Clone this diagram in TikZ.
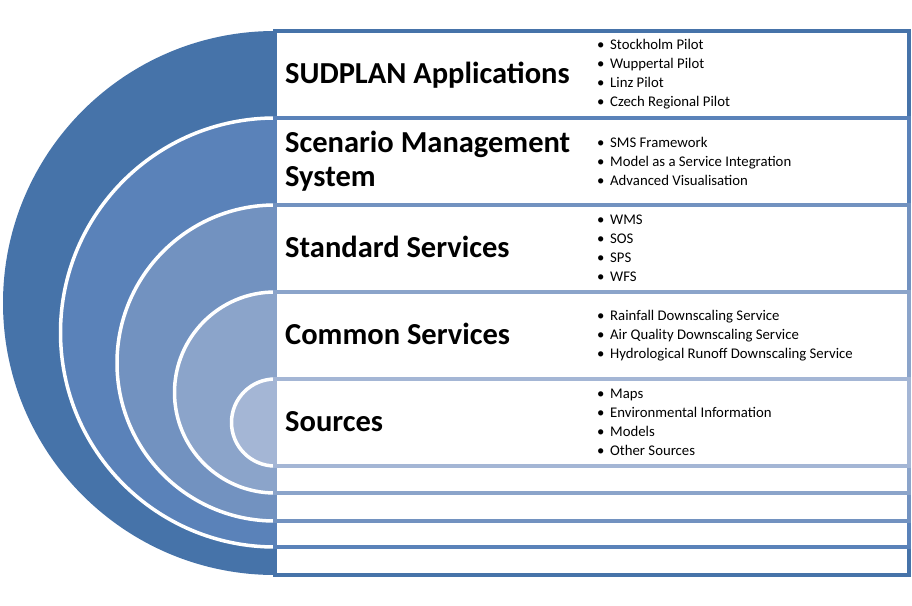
\documentclass[tikz,border=0pt]{standalone}
\usepackage{fontspec}
\setmainfont{Carlito}
\definecolor{cA}{HTML}{4673A9}
\definecolor{cB}{HTML}{5A82B9}
\definecolor{cC}{HTML}{7292C0}
\definecolor{cD}{HTML}{8BA4CA}
\definecolor{cE}{HTML}{A4B6D5}
\newcommand\bul{\makebox[13pt][l]{\textbullet}}
\tikzset{
  ring/.style={draw=white, line width=3.5pt},
  band/.style={line width=3.5pt, fill=white},
  head/.style={anchor=base west, inner sep=0pt, align=left, font=\fontsize{30.5}{34}\selectfont\bfseries},
  items/.style={anchor=west, inner sep=0pt, align=left, font=\fontsize{14.75}{19}\selectfont}
}
\begin{document}
\begin{tikzpicture}[x=1pt,y=-1pt]
\useasboundingbox (0,0) rectangle (912,605);
% level 1
\fill[cA] (275,31) arc[start angle=90,end angle=270,radius=272pt] -- cycle;
\draw[band, draw=cA] (275,31) rectangle (909,575);
% level 2
\filldraw[ring, fill=cB] (275,118) arc[start angle=90,end angle=270,radius=214.5pt] -- cycle;
\draw[band, draw=cB] (275,118) rectangle (909,547);
% level 3
\filldraw[ring, fill=cC] (275,205) arc[start angle=90,end angle=270,radius=158pt] -- cycle;
\draw[band, draw=cC] (275,205) rectangle (909,521);
% level 4
\filldraw[ring, fill=cD] (275,292) arc[start angle=90,end angle=270,radius=100.5pt] -- cycle;
\draw[band, draw=cD] (275,292) rectangle (909,493);
% level 5
\filldraw[ring, fill=cE] (275,379) arc[start angle=90,end angle=270,radius=43.5pt] -- cycle;
\draw[band, draw=cE] (275,379) rectangle (909,466);
% headings
\node[head] (h1) at (285,83) {SUDPLAN Applications};
\node[head] (h2) at (285,186) {Scenario Management\\System};
\node[head] (h3) at (285,257) {Standard Services};
\node[head] (h4) at (285,344) {Common Services};
\node[head] (h5) at (285,431) {Sources};
% item lists
\node[items] (l1) at (597,74) {\bul Stockholm Pilot\\\bul Wuppertal Pilot\\\bul Linz Pilot\\\bul Czech Regional Pilot};
\node[items] (l2) at (597,161.5) {\bul SMS Framework\\\bul Model as a Service Integration\\\bul Advanced Visualisation};
\node[items] (l3) at (597,248.5) {\bul WMS\\\bul SOS\\\bul SPS\\\bul WFS};
\node[items] (l4) at (597,335.5) {\bul Rainfall Downscaling Service\\\bul Air Quality Downscaling Service\\\bul Hydrological Runoff Downscaling Service};
\node[items] (l5) at (597,422.5) {\bul Maps\\\bul Environmental Information\\\bul Models\\\bul Other Sources};
\end{tikzpicture}
\end{document}
